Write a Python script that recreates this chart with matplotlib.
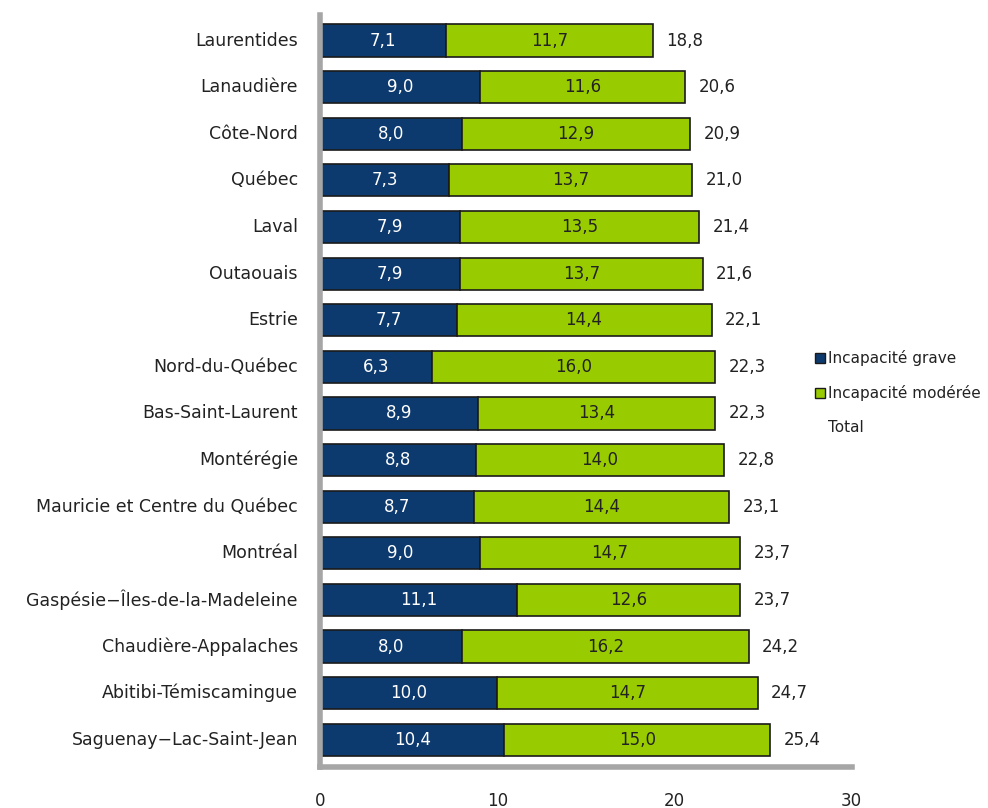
import matplotlib.pyplot as plt
from matplotlib.lines import Line2D

regions = [
    'Laurentides', 'Lanaudière', 'Côte-Nord', 'Québec', 'Laval', 'Outaouais',
    'Estrie', 'Nord-du-Québec', 'Bas-Saint-Laurent', 'Montérégie',
    'Mauricie et Centre du Québec', 'Montréal', 'Gaspésie\u2212Îles-de-la-Madeleine',
    'Chaudière-Appalaches', 'Abitibi-Témiscamingue', 'Saguenay\u2212Lac-Saint-Jean',
]
grave = [7.1, 9.0, 8.0, 7.3, 7.9, 7.9, 7.7, 6.3, 8.9, 8.8, 8.7, 9.0, 11.1, 8.0, 10.0, 10.4]
moderee = [11.7, 11.6, 12.9, 13.7, 13.5, 13.7, 14.4, 16.0, 13.4, 14.0, 14.4, 14.7, 12.6, 16.2, 14.7, 15.0]
total = [18.8, 20.6, 20.9, 21.0, 21.4, 21.6, 22.1, 22.3, 22.3, 22.8, 23.1, 23.7, 23.7, 24.2, 24.7, 25.4]

NAVY = '#0d3a6e'
GREEN = '#99cc00'
INK = '#222222'

def fmt(v):
    return f'{v:.1f}'.replace('.', ',')

plt.rcParams['font.family'] = ['DejaVu Sans']

fig = plt.figure(figsize=(9.88, 8.08), dpi=100)
ax = fig.add_axes([0.324, 0.051, 0.538, 0.930])

y = list(range(len(regions)))
ax.barh(y, grave, height=0.69, color=NAVY, edgecolor='#1a1a1a', linewidth=1.2)
ax.barh(y, moderee, left=grave, height=0.69, color=GREEN, edgecolor='#1a1a1a', linewidth=1.2)

for i in y:
    ax.text(grave[i] / 2, i, fmt(grave[i]), ha='center', va='center',
            color='white', fontsize=12)
    ax.text(grave[i] + moderee[i] / 2, i, fmt(moderee[i]), ha='center', va='center',
            color=INK, fontsize=12)
    ax.text(total[i] + 0.75, i, fmt(total[i]), ha='left', va='center',
            color=INK, fontsize=12)

ax.set_xlim(0, 30)
ax.set_ylim(len(regions) - 0.42, -0.54)
ax.set_yticks(y)
ax.set_yticklabels(regions, fontsize=12.5, color=INK, va='center')
ax.set_xticks([0, 10, 20, 30])
ax.set_xticklabels(['0', '10', '20', '30'], fontsize=12, color=INK)
ax.tick_params(axis='y', length=0, pad=16)
ax.tick_params(axis='x', length=0, pad=18)

for side in ('top', 'right'):
    ax.spines[side].set_visible(False)
for side in ('left', 'bottom'):
    ax.spines[side].set_color('#a6a6a6')
    ax.spines[side].set_linewidth(4)

handles = [
    Line2D([], [], marker='s', linestyle='none', markersize=7,
           markerfacecolor=NAVY, markeredgecolor='#1a1a1a'),
    Line2D([], [], marker='s', linestyle='none', markersize=7,
           markerfacecolor=GREEN, markeredgecolor='#1a1a1a'),
    Line2D([], [], linestyle='none'),
]
fig.legend(handles, ['Incapacité grave', 'Incapacité modérée', 'Total'],
           loc='center left', bbox_to_anchor=(0.812, 0.514), frameon=False,
           fontsize=11, handlelength=0.5, handletextpad=0.3, labelspacing=1.25,
           labelcolor=INK)

fig.savefig('out.png', dpi=100)
